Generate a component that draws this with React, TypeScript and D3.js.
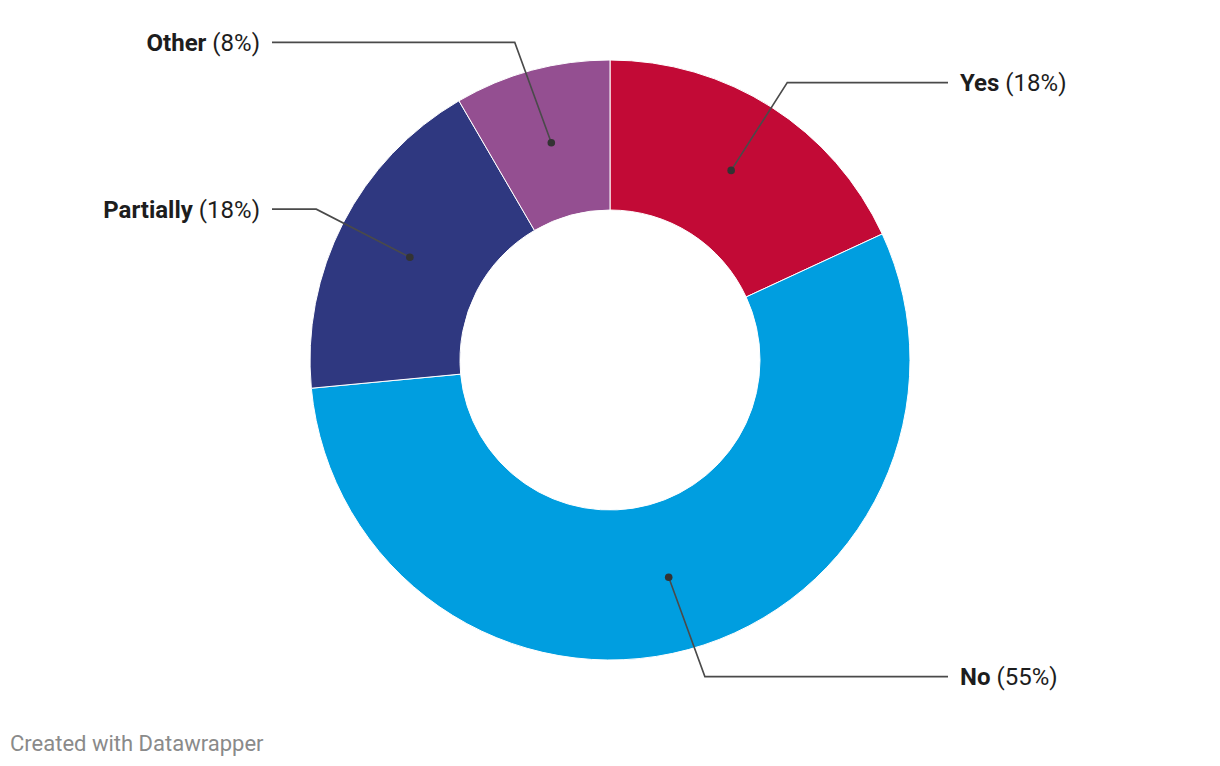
import React from "react";
import * as d3 from "d3";

const categories = ["Yes", "No", "Partially", "Other"];
const values = [18.1, 55.4, 18.1, 8.4];
const colors = ["#c20a36", "#009ee0", "#2f3880", "#944f91"];

const W = 1220;
const H = 766;
const cx = 610;
const cy = 360;
const R = 300;
const r = 150;
const labelR = 328;

export default function App() {
  const pie = d3.pie<number>().sort(null).value((d) => d)(values);
  const arc = d3.arc<d3.PieArcDatum<number>>().innerRadius(r).outerRadius(R);
  const total = d3.sum(values);
  return (
    <svg
      width={W}
      height={H}
      style={{ position: "absolute", left: 0, top: 0, fontFamily: "Roboto, sans-serif" }}
    >
      <g transform={`translate(${cx},${cy})`}>
        {pie.map((p, i) => (
          <path key={i} d={arc(p) || ""} fill={colors[i]} stroke="#fff" strokeWidth={1} />
        ))}
      </g>
      {pie.map((p, i) => {
        const mid = (p.startAngle + p.endAngle) / 2;
        const sx = Math.sin(mid);
        const sy = -Math.cos(mid);
        const dotX = cx + ((R + r) / 2) * sx;
        const dotY = cy + ((R + r) / 2) * sy;
        const ly = cy + labelR * sy - (sy < 0 ? 1 : 0);
        const right = sx >= 0;
        let ratio = sx / sy;
        if (Math.abs(ratio) < 0.36) ratio = 0.364 * Math.sign(ratio || 1);
        const ex = dotX + (ly - dotY) * ratio;
        const endX = right ? 948 : 272;
        const tx = right ? 960 : 260;
        const pct = Math.round((values[i] / total) * 100);
        return (
          <g key={i}>
            <polyline
              points={`${dotX},${dotY} ${ex},${ly} ${endX},${ly}`}
              fill="none"
              stroke="#4a4a4a"
              strokeWidth={1.6}
            />
            <circle cx={dotX} cy={dotY} r={3.8} fill="#333" />
            <text
              x={tx}
              y={ly}
              dy="0.35em"
              fontSize={24}
              fill="#1d1d1d"
              textAnchor={right ? "start" : "end"}
            >
              <tspan fontWeight={700}>{categories[i]}</tspan>
              <tspan> ({pct}%)</tspan>
            </text>
          </g>
        );
      })}
      <text x={10} y={751} fontSize={22} fill="#8a8a8a">
        Created with Datawrapper
      </text>
    </svg>
  );
}
